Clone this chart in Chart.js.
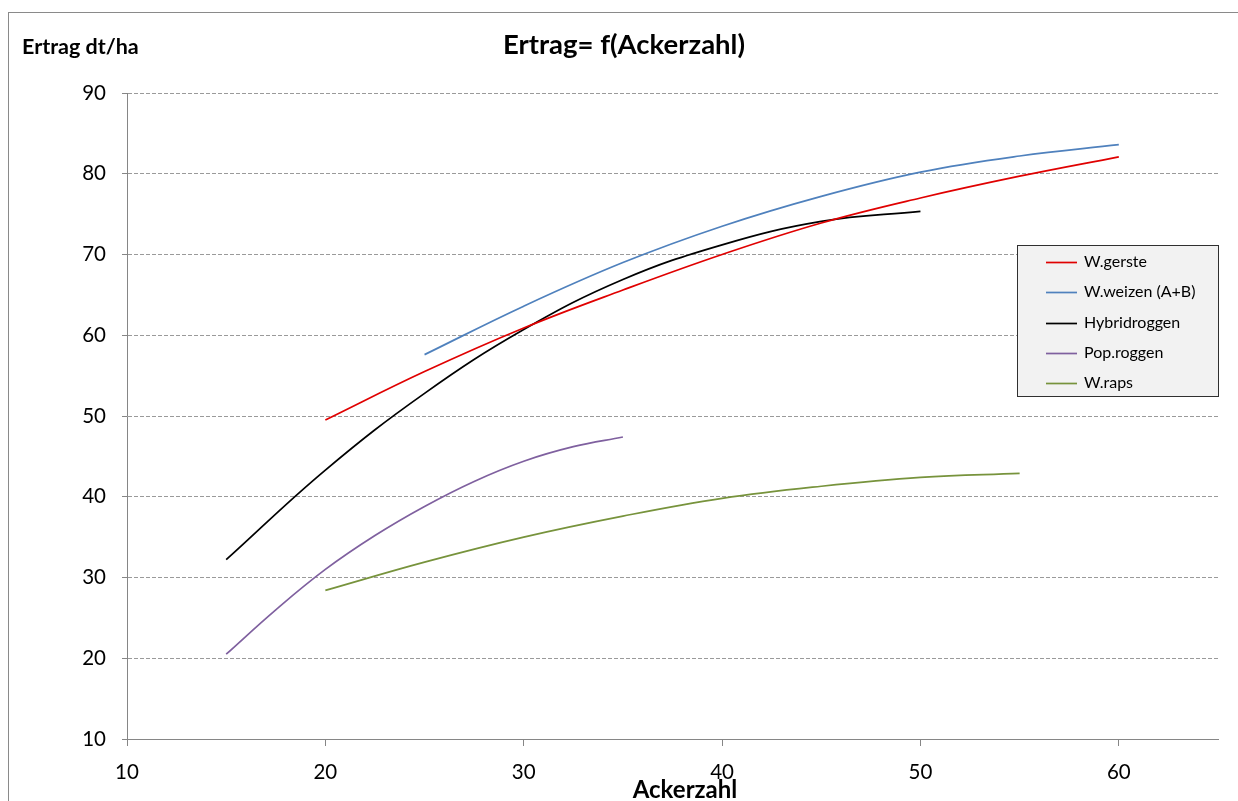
<!DOCTYPE html>
<html>
<head>
<meta charset="utf-8">
<script src="https://cdn.jsdelivr.net/npm/chart.js@4.4.1/dist/chart.umd.min.js"></script>
<style>
  html, body { margin: 0; padding: 0; background: #ffffff; }
  #wrap { width: 1238px; height: 801px; position: relative; }
</style>
</head>
<body>
<div id="wrap"><canvas id="c" width="1238" height="801"></canvas></div>
<script>
// Ackerzahl (x) and Ertrag in dt/ha (y) for each crop
const seriesNames = ['W.gerste', 'W.weizen (A+B)', 'Hybridroggen', 'Pop.roggen', 'W.raps'];
const seriesColors = ['#e00000', '#4f81bd', '#000000', '#7f609f', '#77933c'];

const xGerste = [20, 25, 30, 35, 40, 45, 50, 55, 60];
const yGerste = [49.5, 55.5, 60.9, 65.6, 70.0, 73.9, 77.0, 79.7, 82.1];

const xWeizen = [25, 30, 35, 40, 45, 50, 55, 60];
const yWeizen = [57.6, 63.6, 69.0, 73.5, 77.2, 80.2, 82.2, 83.6];

const xHybrid = [15, 20, 25, 30, 35, 40, 45, 50];
const yHybrid = [32.2, 43.3, 52.8, 60.7, 66.9, 71.2, 74.1, 75.35];

const xPop = [15, 17.5, 20, 22.5, 25, 27.5, 30, 32.5, 35];
const yPop = [20.5, 26.0, 31.0, 35.2, 38.8, 41.9, 44.4, 46.2, 47.4];

const xRaps = [20, 25, 30, 35, 40, 45, 50, 55];
const yRaps = [28.4, 31.9, 35.0, 37.6, 39.8, 41.3, 42.4, 42.9];

const xTicks = [10, 20, 30, 40, 50, 60];
const yTicks = [10, 20, 30, 40, 50, 60, 70, 80, 90];

const titleText = 'Ertrag= f(Ackerzahl)';
const yTitleText = 'Ertrag dt/ha';
const xTitleText = 'Ackerzahl';

const FONT = 'Lato, "Open Sans", sans-serif';

function toPoints(xs, ys) {
  return xs.map((x, i) => ({ x: x, y: ys[i] }));
}

const seriesData = [
  toPoints(xGerste, yGerste),
  toPoints(xWeizen, yWeizen),
  toPoints(xHybrid, yHybrid),
  toPoints(xPop, yPop),
  toPoints(xRaps, yRaps)
];

const datasets = seriesNames.map((name, i) => ({
  label: name,
  data: seriesData[i],
  borderColor: seriesColors[i],
  backgroundColor: seriesColors[i],
  borderWidth: 1.7,
  pointRadius: 0,
  pointHoverRadius: 0,
  fill: false,
  tension: 0.4
}));

// Frame, titles and the boxed legend inside the plot
const decorations = {
  id: 'decorations',
  afterDraw(chart) {
    const ctx = chart.ctx;
    ctx.save();
    // outer frame
    ctx.strokeStyle = '#8a8a8a';
    ctx.lineWidth = 1;
    ctx.strokeRect(8.5, 12.5, 1400, 1000);

    ctx.fillStyle = '#000000';
    ctx.textBaseline = 'middle';
    ctx.textAlign = 'center';
    ctx.font = 'bold 27.5px ' + FONT;
    ctx.fillText(titleText, 624, 45);

    ctx.textAlign = 'left';
    ctx.font = 'bold 21.5px ' + FONT;
    ctx.fillText(yTitleText, 22, 47);

    ctx.textAlign = 'center';
    ctx.font = 'bold 24px ' + FONT;
    ctx.fillText(xTitleText, 685, 790);

    // legend
    const lx = 1017.5, ly = 245.5, lw = 201, lh = 151;
    ctx.fillStyle = '#f2f2f2';
    ctx.fillRect(lx, ly, lw, lh);
    ctx.strokeStyle = '#303030';
    ctx.strokeRect(lx, ly, lw, lh);
    ctx.font = '16px ' + FONT;
    ctx.textAlign = 'left';
    chart.data.datasets.forEach((ds, i) => {
      const y = 262 + i * 30.25;
      ctx.strokeStyle = ds.borderColor;
      ctx.lineWidth = 1.7;
      ctx.beginPath();
      ctx.moveTo(1046, Math.round(y) + 0.5);
      ctx.lineTo(1077, Math.round(y) + 0.5);
      ctx.stroke();
      ctx.fillStyle = '#000000';
      ctx.fillText(ds.label, 1084, y);
    });
    ctx.restore();
  }
};

new Chart(document.getElementById('c'), {
  type: 'line',
  data: { datasets: datasets },
  options: {
    responsive: false,
    animation: false,
    events: [],
    layout: { padding: { top: 93, right: 20, bottom: 0, left: 0 } },
    plugins: {
      legend: { display: false },
      title: { display: false },
      tooltip: { enabled: false }
    },
    scales: {
      x: {
        type: 'linear',
        min: xTicks[0],
        max: 65,
        afterFit(scale) { scale.height = 62; },
        afterBuildTicks(scale) { scale.ticks = xTicks.map(v => ({ value: v })); },
        ticks: {
          color: '#000000',
          font: { family: FONT, size: 20.5 },
          padding: 14,
          maxRotation: 0
        },
        grid: {
          drawOnChartArea: false,
          drawTicks: true,
          tickLength: 7,
          color: '#868686',
          tickColor: '#868686'
        },
        border: { display: true, color: '#868686', width: 1 }
      },
      y: {
        type: 'linear',
        min: yTicks[0],
        max: yTicks[yTicks.length - 1],
        afterFit(scale) { scale.width = 127; },
        afterBuildTicks(scale) { scale.ticks = yTicks.map(v => ({ value: v })); },
        ticks: {
          color: '#000000',
          font: { family: FONT, size: 20.5 },
          padding: 16
        },
        grid: {
          drawOnChartArea: true,
          drawTicks: true,
          tickLength: 5,
          color: '#9a9a9a',
          tickColor: '#868686',
          tickBorderDash: []
        },
        border: { display: true, color: '#868686', width: 1, dash: [4, 2] }
      }
    }
  },
  plugins: [decorations]
});
</script>
</body>
</html>
